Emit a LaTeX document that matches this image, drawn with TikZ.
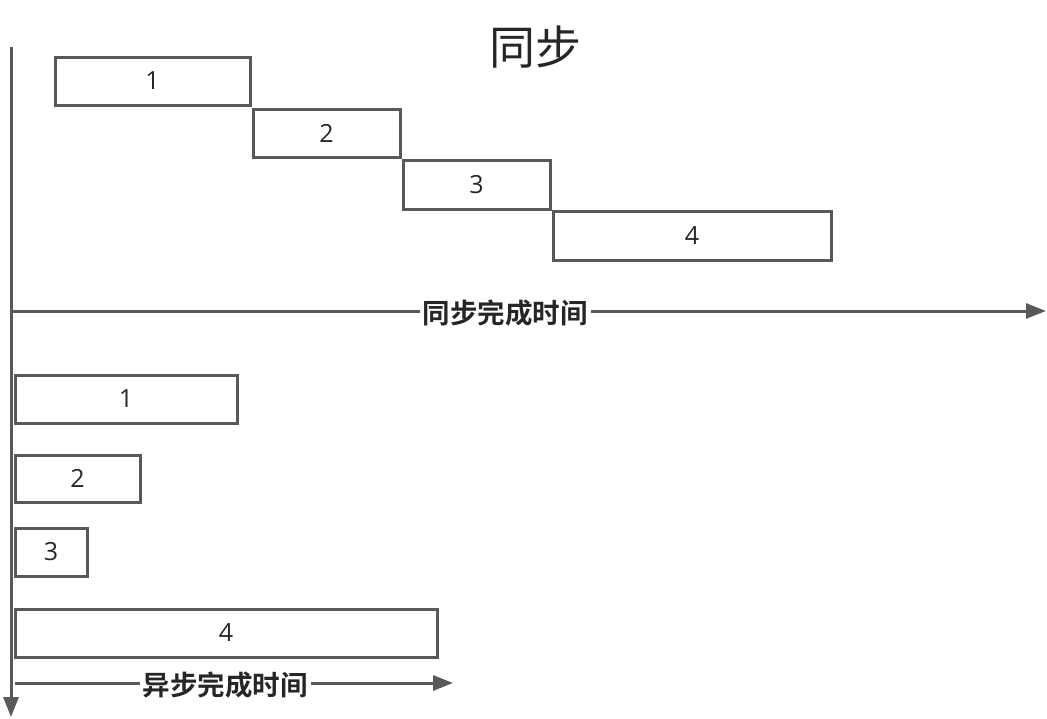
\documentclass[tikz,border=0pt]{standalone}
\usepackage{fontspec}
\setmainfont{Open Sans}
\newfontfamily\cjk{Noto Sans CJK SC}
\newfontfamily\cjkb{Noto Sans CJK SC Bold}
\usetikzlibrary{arrows.meta}
\definecolor{axisgray}{HTML}{595959}
\definecolor{txt}{HTML}{262626}
\tikzset{
  box/.style={draw=axisgray, line width=3pt, fill=white, inner sep=0pt, outer sep=0pt,
    text=txt, font=\fontsize{25}{30}\selectfont},
  axis/.style={draw=axisgray, line width=3pt, -{Triangle[length=20pt,width=15pt]}},
  axlabel/.style={fill=white, inner xsep=3pt, inner ysep=1pt, text=txt, font=\cjkb\fontsize{27.5}{32}\selectfont}
}
\begin{document}
\begin{tikzpicture}[x=1pt,y=-1pt]
\useasboundingbox (0,0) rectangle (1047,718);
% title
\node[text=txt, font=\cjk\fontsize{46}{50}\selectfont] (title) at (535,47) {同步};
% vertical axis
\coordinate (vtop) at (11,47);
\coordinate (vbot) at (11,717);
\draw[axis] (vtop) -- (vbot);
% top boxes
\node[box, minimum width=195pt, minimum height=48pt] (t1) at (152.5,81) {1};
\node[box, minimum width=147pt, minimum height=48pt] (t2) at (326.5,133) {2};
\node[box, minimum width=147pt, minimum height=49pt] (t3) at (476.5,184.5) {3};
\node[box, minimum width=278pt, minimum height=49pt] (t4) at (692,235.5) {4};
% sync axis
\coordinate (hs) at (11,311);
\coordinate (he) at (1046,311);
\draw[axis] (hs) -- (he);
\node[axlabel] (slabel) at (505,313) {同步完成时间};
% bottom boxes
\node[box, minimum width=222pt, minimum height=48pt] (b1) at (126,399) {1};
\node[box, minimum width=125pt, minimum height=47pt] (b2) at (77.5,478.5) {2};
\node[box, minimum width=72pt, minimum height=48pt] (b3) at (51,552) {3};
\node[box, minimum width=422pt, minimum height=48pt] (b4) at (226,633) {4};
% async axis
\coordinate (as) at (15,683);
\coordinate (ae) at (453,683);
\draw[axis] (as) -- (ae);
\node[axlabel] (alabel) at (225,685) {异步完成时间};
\end{tikzpicture}
\end{document}
